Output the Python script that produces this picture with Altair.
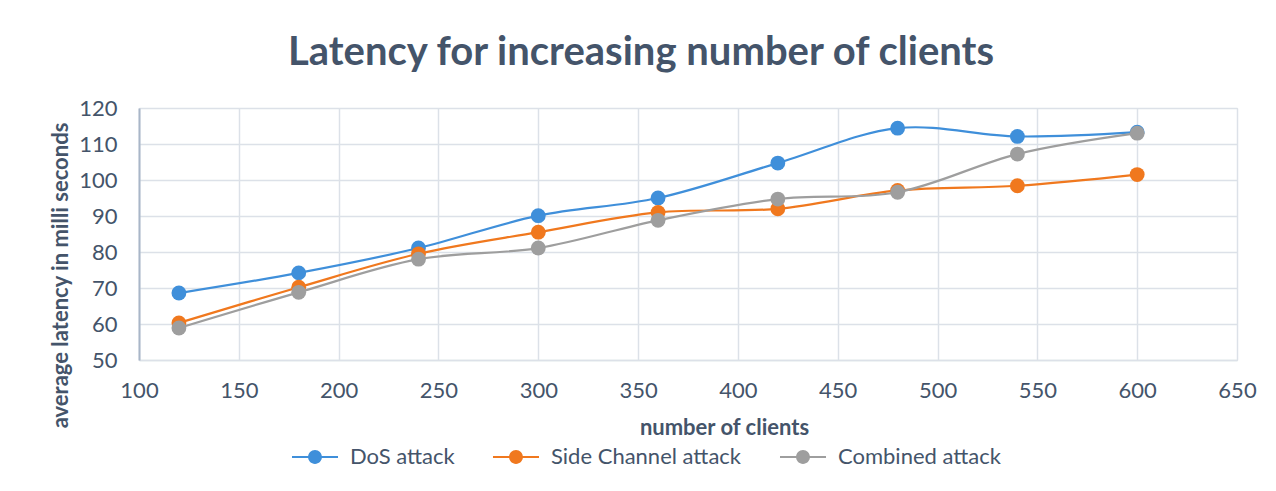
import altair as alt
import pandas as pd

clients = [120, 180, 240, 300, 360, 420, 480, 540, 600]
dos = [68.6, 74.2, 81.1, 90.1, 95.0, 104.7, 114.4, 112.1, 113.3]
side = [60.3, 70.2, 79.5, 85.5, 91.0, 92.0, 97.1, 98.4, 101.5]
comb = [58.9, 68.8, 78.0, 81.1, 88.8, 94.7, 96.6, 107.2, 113.0]
series = ["DoS attack", "Side Channel attack", "Combined attack"]
colors = ["#3F8FDA", "#F0781E", "#9E9E9E"]
x_ticks = list(range(100, 651, 50))
y_ticks = list(range(50, 121, 10))

rows = []
for name, vals in zip(series, [dos, side, comb]):
    for c, v in zip(clients, vals):
        rows.append({"clients": c, "latency": v, "series": name})
df = pd.DataFrame(rows)

FONT = "Lato"
TXT = "#44546A"
GRID = "#DCE1E8"

x_enc = alt.X(
    "clients:Q",
    scale=alt.Scale(domain=[100, 650], nice=False, zero=False),
    axis=alt.Axis(
        values=x_ticks, title="number of clients", grid=True, gridColor=GRID, gridWidth=1.5,
        domainColor=GRID, domainWidth=1.5, ticks=False, labelPadding=20, labelFlush=False,
        labelFontSize=22, labelFont=FONT, labelColor=TXT,
        titleFont=FONT, titleFontSize=22, titleFontWeight="bold", titleColor=TXT,
        titleX=585, titleY=74, titleBaseline="alphabetic", titleAlign="center",
    ),
)
y_enc = alt.Y(
    "latency:Q",
    scale=alt.Scale(domain=[50, 120], nice=False, zero=False),
    axis=alt.Axis(
        values=y_ticks, title="average latency in milli seconds", grid=True, gridColor=GRID,
        gridWidth=1.5, domainColor="#A9B6C8", domainWidth=2, ticks=False, labelPadding=22,
        labelFlush=False,
        labelFontSize=22, labelFont=FONT, labelColor=TXT,
        titleFont=FONT, titleFontSize=22, titleFontWeight="bold", titleColor=TXT,
        titleAngle=270, titleX=-79, titleY=167, titleAlign="center", titleBaseline="middle",
    ),
)

legend_path = ("M-2.5,-0.1L2.5,-0.1L2.5,0.1L-2.5,0.1Z "
               "M0.75,0A0.75,0.75,0,1,1,-0.75,0A0.75,0.75,0,1,1,0.75,0Z")
color_enc = alt.Color(
    "series:N",
    scale=alt.Scale(domain=series, range=colors),
    legend=alt.Legend(
        title=None, orient="none", direction="horizontal", legendX=165, legendY=338,
        symbolType=legend_path, symbolSize=339, symbolStrokeWidth=0, symbolOpacity=1,
        labelFont=FONT, labelFontSize=22, labelColor=TXT, labelOffset=24,
        columnPadding=37, labelLimit=400,
    ),
)

layers = []
for s in series:
    base = alt.Chart(df).transform_filter(alt.datum.series == s)
    layers.append(base.mark_line(interpolate="catmull-rom", strokeWidth=2.2).encode(
        x=x_enc, y=y_enc, color=color_enc))
    layers.append(base.mark_point(filled=True, size=220, opacity=1).encode(
        x=x_enc, y=y_enc, color=color_enc))

chart = alt.layer(*layers).properties(
    width=1098,
    height=252,
    title=alt.TitleParams(
        "Latency for increasing number of clients", font=FONT, fontSize=40,
        fontWeight="bold", color=TXT, anchor="middle", dx=-47, offset=27, dy=35,
        baseline="alphabetic",
    ),
    autosize=alt.AutoSizeParams(type="none"),
    padding={"left": 131, "top": 100, "right": 31, "bottom": 115},
).configure_view(stroke=None).configure(background="white")

chart.save("out.html", embed_options={"renderer": "svg", "actions": False})
